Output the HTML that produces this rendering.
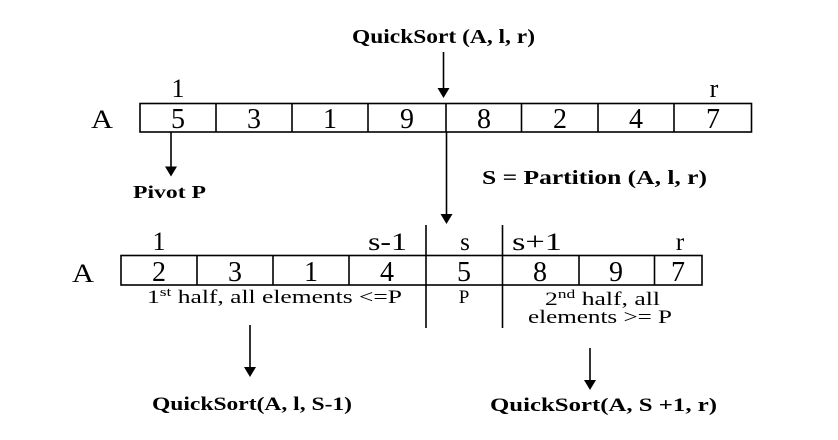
<!DOCTYPE html>
<html><head><meta charset="utf-8"><style>
html,body{margin:0;padding:0;background:#fff;}
svg{display:block;}
text{font-family:"Liberation Serif",serif;fill:#000;}
.b{font-weight:bold;}
</style></head><body>
<svg width="838" height="440" viewBox="0 0 838 440" xmlns="http://www.w3.org/2000/svg">
<rect width="838" height="440" fill="#fff"/>
<!-- Top title -->
<text class="b" x="352" y="43" font-size="20" textLength="183" lengthAdjust="spacingAndGlyphs">QuickSort (A, l, r)</text>
<!-- arrow 1 -->
<line x1="443.5" y1="52" x2="443.5" y2="90" stroke="#000" stroke-width="1.6"/>
<polygon points="437.5,88 449.5,88 443.5,98" fill="#000"/>

<!-- Row 1 labels -->
<text x="178" y="97" font-size="26" text-anchor="middle">1</text>
<text x="714" y="97" font-size="26" text-anchor="middle">r</text>
<text x="91" y="128" font-size="26" textLength="22" lengthAdjust="spacingAndGlyphs">A</text>

<!-- Row 1 array -->
<g stroke="#000" stroke-width="1.6" fill="none">
<rect x="140" y="103.5" width="611.5" height="28.5"/>
<line x1="216" y1="103.5" x2="216" y2="132"/>
<line x1="292" y1="103.5" x2="292" y2="132"/>
<line x1="368" y1="103.5" x2="368" y2="132"/>
<line x1="446" y1="103.5" x2="446" y2="132"/>
<line x1="521.5" y1="103.5" x2="521.5" y2="132"/>
<line x1="598" y1="103.5" x2="598" y2="132"/>
<line x1="674" y1="103.5" x2="674" y2="132"/>
</g>
<g font-size="28" text-anchor="middle">
<text x="178" y="128">5</text>
<text x="254" y="128">3</text>
<text x="330" y="128">1</text>
<text x="407" y="128">9</text>
<text x="484" y="128">8</text>
<text x="560" y="128">2</text>
<text x="636" y="128">4</text>
<text x="713" y="128">7</text>
</g>

<!-- Pivot arrow -->
<line x1="171" y1="132" x2="171" y2="168" stroke="#000" stroke-width="1.6"/>
<polygon points="165,166.5 177,166.5 171,176.5" fill="#000"/>
<text class="b" x="133" y="198" font-size="18" textLength="73" lengthAdjust="spacingAndGlyphs">Pivot P</text>

<!-- Partition arrow -->
<line x1="446.5" y1="132" x2="446.5" y2="216" stroke="#000" stroke-width="1.6"/>
<polygon points="440.5,214 452.5,214 446.5,224" fill="#000"/>
<text class="b" x="482" y="184" font-size="20" textLength="225" lengthAdjust="spacingAndGlyphs">S = Partition (A, l, r)</text>

<!-- Row 2 labels -->
<text x="159" y="250" font-size="26" text-anchor="middle">1</text>
<text x="368" y="250" font-size="25" textLength="39" lengthAdjust="spacingAndGlyphs">s-1</text>
<text x="465" y="250" font-size="25" text-anchor="middle">s</text>
<text x="512" y="250" font-size="25" textLength="50" lengthAdjust="spacingAndGlyphs">s+1</text>
<text x="680" y="250" font-size="25" text-anchor="middle">r</text>
<text x="72" y="282" font-size="26" textLength="22" lengthAdjust="spacingAndGlyphs">A</text>

<!-- Row 2 array -->
<g stroke="#000" stroke-width="1.6" fill="none">
<rect x="121" y="255.5" width="581" height="29.5"/>
<line x1="197" y1="255.5" x2="197" y2="285"/>
<line x1="273" y1="255.5" x2="273" y2="285"/>
<line x1="349" y1="255.5" x2="349" y2="285"/>
<line x1="579" y1="255.5" x2="579" y2="285"/>
<line x1="654.5" y1="255.5" x2="654.5" y2="285"/>
<line x1="426" y1="225" x2="426" y2="328"/>
<line x1="502.5" y1="225" x2="502.5" y2="328"/>
</g>
<g font-size="28" text-anchor="middle">
<text x="159" y="281">2</text>
<text x="235" y="281">3</text>
<text x="311" y="281">1</text>
<text x="387" y="281">4</text>
<text x="464" y="281">5</text>
<text x="540" y="281">8</text>
<text x="616" y="281">9</text>
<text x="678" y="281">7</text>
</g>

<!-- captions -->
<text x="147" y="303" font-size="19" textLength="255" lengthAdjust="spacingAndGlyphs">1<tspan font-size="13" dy="-7">st</tspan><tspan dy="7"> half, all elements &lt;=P</tspan></text>
<text x="464" y="303" font-size="19" text-anchor="middle">P</text>
<text x="545" y="305" font-size="19" textLength="115" lengthAdjust="spacingAndGlyphs">2<tspan font-size="13" dy="-7">nd</tspan><tspan dy="7"> half, all</tspan></text>
<text x="528" y="323" font-size="19" textLength="144" lengthAdjust="spacingAndGlyphs">elements &gt;= P</text>

<!-- bottom arrows -->
<line x1="250" y1="325" x2="250" y2="369" stroke="#000" stroke-width="1.6"/>
<polygon points="244,367 256,367 250,377" fill="#000"/>
<line x1="590" y1="348" x2="590" y2="382" stroke="#000" stroke-width="1.6"/>
<polygon points="584,380 596,380 590,390" fill="#000"/>

<text class="b" x="152" y="410" font-size="19" textLength="200" lengthAdjust="spacingAndGlyphs">QuickSort(A, l, S-1)</text>
<text class="b" x="490" y="411" font-size="19" textLength="227" lengthAdjust="spacingAndGlyphs">QuickSort(A, S +1, r)</text>
</svg>
</body></html>
